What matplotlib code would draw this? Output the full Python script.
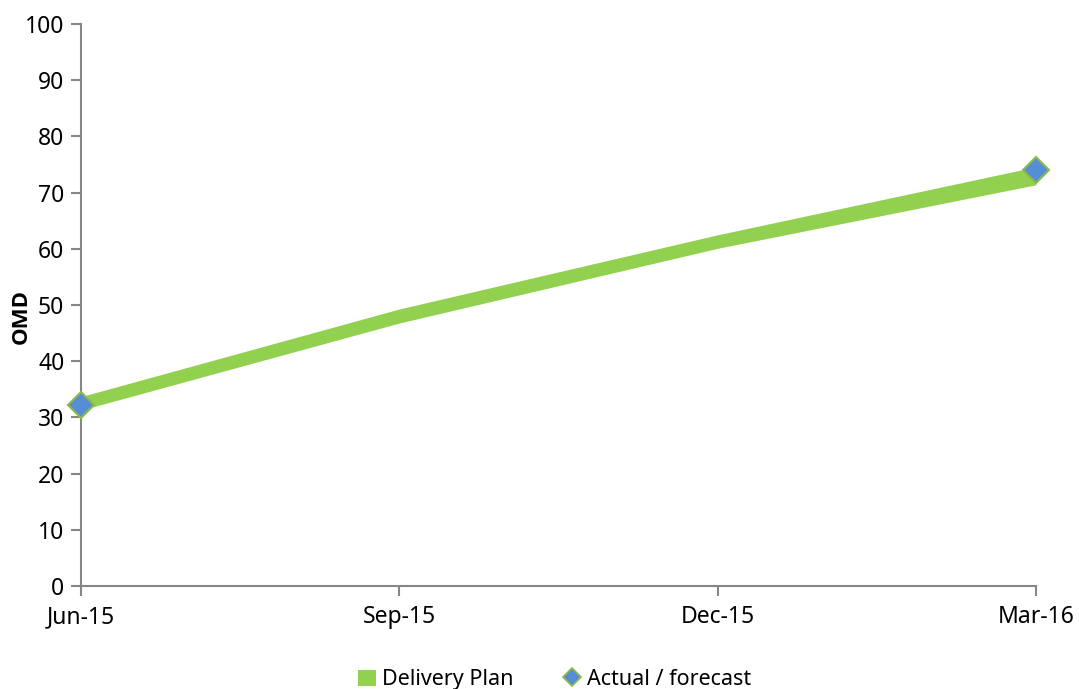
import matplotlib
matplotlib.use("Agg")
import matplotlib.pyplot as plt
from matplotlib.patches import Patch
from matplotlib.lines import Line2D

plt.rcParams['font.family'] = ['Noto Sans', 'DejaVu Sans']

categories = ["Jun-15", "Sep-15", "Dec-15", "Mar-16"]
plan_base = [31.3, 46.8, 60.1, 71.4]
plan_band = [2.4, 2.5, 2.4, 3.2]
actual_idx = [0, 3]
actual_vals = [32.2, 74.0]

green = "#92D050"
blue = "#558ED5"
edge = "#8DB84A"
axis_col = "#868686"

fig = plt.figure(figsize=(10.79, 6.89), dpi=100)
ax = fig.add_axes([0.075, 0.1495, 0.885, 0.8155])

x = list(range(len(categories)))
top = [b + h for b, h in zip(plan_base, plan_band)]
ax.fill_between(x, plan_base, top, color=green, linewidth=0, zorder=2)
ax.plot(actual_idx, actual_vals, linestyle='none', marker='D', markersize=13,
        markerfacecolor=blue, markeredgecolor=edge, markeredgewidth=1.5,
        zorder=3, clip_on=False)

ax.set_xlim(0, 3)
ax.set_ylim(0, 100)
ax.set_xticks(x)
ax.set_xticklabels(categories)
ax.set_yticks(range(0, 101, 10))
for s in ['top', 'right']:
    ax.spines[s].set_visible(False)
for s in ['left', 'bottom']:
    ax.spines[s].set_color(axis_col)
    ax.spines[s].set_linewidth(1.5)
ax.tick_params(axis='both', colors=axis_col, width=1.5, length=7, labelcolor='black',
               labelsize=16.5)
ax.tick_params(axis='x', pad=7)
ax.tick_params(axis='y', pad=5)
ax.set_ylabel("OMD", fontsize=16, fontweight='bold', family=['Open Sans', 'DejaVu Sans'])
ax.yaxis.set_label_coords(-0.052, 0.48)

handles = [Patch(facecolor=green, edgecolor='none', label='Delivery Plan'),
           Line2D([], [], linestyle='none', marker='D', markersize=9,
                  markerfacecolor=blue, markeredgecolor=edge, markeredgewidth=1.2,
                  label='Actual / forecast')]
fig.legend(handles=handles, loc='lower center', bbox_to_anchor=(0.514, -0.03), ncol=2,
           frameon=False, fontsize=15.5, handlelength=0.8, handleheight=0.8,
           handletextpad=0.3, columnspacing=2.3)

fig.savefig("out.png", dpi=100)
